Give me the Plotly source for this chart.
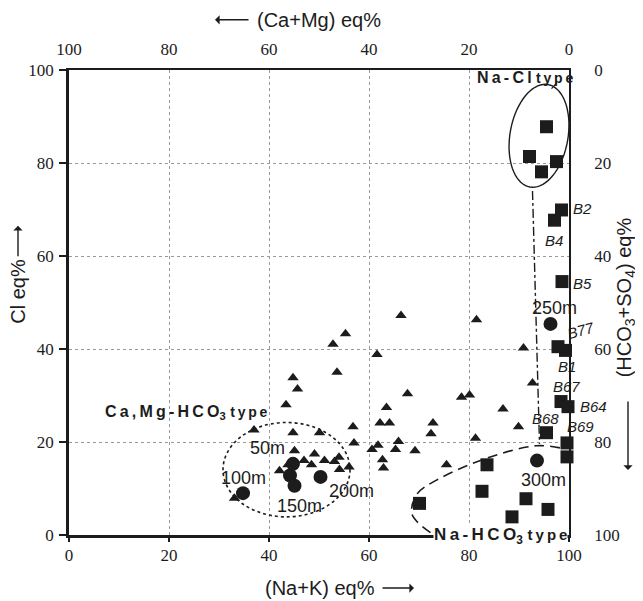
import numpy as np
import plotly.graph_objects as go

# ---------------- data ----------------
tri_x = [66.4, 81.5, 55.3, 52.8, 61.6, 90.9, 53.6, 44.8, 45.7, 92.7, 67.7, 78.5, 80.1,
         43.4, 63.5, 86.8, 89.9, 56.8, 62.2, 64.1, 72.8, 72.4, 37.0, 44.8, 50.1, 57.0,
         60.6, 61.8, 65.9, 65.3, 69.2, 81.3, 62.7, 62.9, 75.5,
         45.1, 49.1, 47.0, 51.1, 54.0, 53.1, 54.1, 56.0, 42.1, 43.8, 48.5, 33.1]
tri_y = [47.2, 46.3, 43.3, 41.0, 38.8, 40.2, 35.0, 33.8, 31.4, 32.7, 30.4, 29.6, 30.1,
         28.0, 27.4, 27.1, 23.3, 23.3, 24.1, 24.1, 24.1, 21.8, 22.6, 22.0, 22.0, 19.8,
         18.4, 19.3, 20.1, 18.4, 18.1, 20.8, 16.2, 14.4, 15.1,
         18.1, 17.4, 16.0, 16.0, 16.7, 15.8, 14.1, 14.6, 13.8, 15.1, 15.1, 7.9]

nacl_x = [95.5, 92.1, 97.5, 94.5]
nacl_y = [87.8, 81.4, 80.3, 78.1]

b_names = ["B2", "B4", "B5", "B77", "B1", "B67", "B64", "B68", "B69", "B69"]
b_x = [98.5, 97.1, 98.6, 97.8, 99.3, 98.4, 99.8, 95.5, 99.6, 99.6]
b_y = [69.9, 67.7, 54.5, 40.5, 39.7, 28.7, 27.6, 22.0, 19.8, 16.8]

nahco3_x = [83.6, 82.6, 70.1, 88.6, 91.4, 95.8]
nahco3_y = [15.1, 9.4, 6.8, 3.9, 7.8, 5.5]

depth_names = ["50m", "", "100m", "150m", "200m", "250m", "300m"]
circ_x = [44.8, 44.2, 34.8, 45.1, 50.3, 96.3, 93.6]
circ_y = [15.3, 12.8, 9.0, 10.6, 12.5, 45.4, 16.0]

ticks = [0, 20, 40, 60, 80, 100]

# ---------------- figure ----------------
INK = "#1c1c1c"
fig = go.Figure()

fig.add_trace(go.Scatter(x=tri_x, y=tri_y, mode="markers", cliponaxis=False,
                         marker=dict(symbol="triangle-up", size=10, color=INK, line=dict(width=0)),
                         hoverinfo="skip", showlegend=False))
fig.add_trace(go.Scatter(x=circ_x, y=circ_y, mode="markers", cliponaxis=False,
                         marker=dict(symbol="circle", size=14, color=INK, line=dict(width=0)),
                         hoverinfo="skip", showlegend=False))
for xs, ys in [(nacl_x, nacl_y), (b_x, b_y), (nahco3_x, nahco3_y)]:
    fig.add_trace(go.Scatter(x=xs, y=ys, mode="markers", cliponaxis=False,
                             marker=dict(symbol="square", size=13, color=INK, line=dict(width=0)),
                             hoverinfo="skip", showlegend=False))

# dashed boundary of the Na-HCO3 group
fig.add_trace(go.Scatter(x=[72.3, 68.6, 69.6, 73.5, 83.5, 93.5, 98.8],
                         y=[0.5, 4.5, 8.8, 11.8, 16.5, 19.2, 18.6],
                         mode="lines", line=dict(color=INK, width=1.6, dash="10px,6px", shape="spline"),
                         hoverinfo="skip", showlegend=False))

# invisible traces for the top and right axes
fig.add_trace(go.Scatter(x=[50], y=[50], xaxis="x2", yaxis="y2", mode="markers",
                         marker=dict(opacity=0), hoverinfo="skip", showlegend=False))

# shapes
shapes = []
t = np.linspace(0, 2 * np.pi, 73)
th = np.radians(10)
cxp, cyp = 94.0, 85.85
a, b = 29.0, 52.0
right = a * np.cos(t) * np.cos(th) + b * np.sin(t) * np.sin(th)
up = -a * np.cos(t) * np.sin(th) + b * np.sin(t) * np.cos(th)
ex = cxp + right / 5.0
ey = cyp + up / 4.65
path = "M " + " L ".join(f"{x:.2f},{y:.2f}" for x, y in zip(ex, ey)) + " Z"
shapes.append(dict(type="path", path=path, xref="x", yref="y", line=dict(color=INK, width=1.4)))
shapes.append(dict(type="line", xref="x", yref="y", x0=96.5, y0=96.0, x1=97.6, y1=97.3,
                   line=dict(color=INK, width=1.2)))
shapes.append(dict(type="circle", xref="x", yref="y", x0=30.8, x1=56.2, y0=3.9, y1=24.2,
                   line=dict(color=INK, width=1.6, dash="dot")))
shapes.append(dict(type="line", xref="x", yref="y", x0=92.7, y0=74.0, x1=94.1, y1=19.6,
                   line=dict(color=INK, width=1.4, dash="dashdot")))

ann = []
def A(text, x, y, size=15, family="Liberation Sans", **kw):
    # positions given in data units (0-100 on both axes) -> paper fractions
    d = dict(text=text, x=x / 100.0, y=y / 100.0, xref="paper", yref="paper", showarrow=False,
             xanchor="center", yanchor="middle",
             font=dict(family=family, size=size, color=INK))
    d.update(kw)
    ann.append(d)

TS = "\u2009"
def spaced(s):
    return TS.join(s)

A(f"<b>{spaced('Na-Cl')} <span style='font-size:14px'>{spaced('type')}</span></b>", 91.2, 98.3, size=16)
A(f"<b>{spaced('Ca,Mg-HCO')}<sub>3</sub> <span style='font-size:14px'>{spaced('type')}</span></b>",
  23.4, 26.3, size=16)
A(f"<b>{spaced('Na-HCO')}<sub>3</sub> <span style='font-size:15px'>{spaced('type')}</span></b>",
  86.3, -0.3, size=17, bgcolor="white", borderpad=0)

depth_pos = {"50m": (39.6, 18.7), "100m": (34.8, 12.3), "150m": (46.1, 6.2),
             "200m": (56.5, 9.5), "250m": (97.1, 48.8), "300m": (94.9, 11.8)}
for n in depth_names:
    if n:
        A(n, *depth_pos[n], size=18)

b_pos = {"B2": (102.6, 70.3, 0), "B4": (96.9, 63.4, 0), "B5": (102.6, 54.1, 0),
         "B77": (102.2, 44.0, -15), "B1": (99.6, 36.2, 0), "B67": (99.4, 31.9, 0),
         "B64": (104.9, 27.6, 0), "B68": (95.3, 25.1, 0), "B69": (102.3, 23.3, 0)}
for n in dict.fromkeys(b_names):
    bx, by, ang = b_pos[n]
    A(f"<i>{n}</i>", bx, by, size=15, textangle=ang)

# axis titles
def T(text, x, y, ang=0, family="Liberation Sans", size=20):
    ann.append(dict(text=text, x=x, y=y, xref="paper", yref="paper", showarrow=False,
                    xanchor="center", yanchor="middle", textangle=ang,
                    font=dict(family=family, size=size, color=INK)))

def ARROW(x, y, ax, ay):
    ann.append(dict(text="", x=x, y=y, xref="paper", yref="paper", showarrow=True,
                    ax=ax, ay=ay, arrowhead=1, arrowsize=1.1, arrowwidth=1.4, arrowcolor=INK,
                    standoff=0, startstandoff=0))

T("(Ca+Mg) eq%", 0.499, 1.108)
ARROW(0.292, 1.108, 35, 0)
T("(Na+K) eq%", 0.502, -0.114)
ARROW(0.69, -0.114, -33, 0)
T("Cl eq%", -0.102, 0.523, ang=-90)
ARROW(-0.102, 0.665, 0, 32)
T("(HCO<sub>3</sub>+SO<sub>4</sub>) eq%", 1.113, 0.51, ang=-90)
ARROW(1.118, 0.14, 0, -70)

tickfont = dict(family="Liberation Serif", size=17, color=INK)
grid = dict(showgrid=True, gridcolor="#9a9a9a", gridwidth=1, griddash="dot", zeroline=False)

# the page body adds an 8px offset; margins compensate for it
fig.update_layout(
    width=643, height=601,
    margin=dict(l=61, r=82, t=62, b=74),
    paper_bgcolor="white", plot_bgcolor="white",
    shapes=shapes, annotations=ann,
    xaxis=dict(range=[0, 100], tickvals=ticks, ticks="outside", ticklen=4, tickwidth=1.5,
               tickcolor=INK, showline=True, linewidth=2.5, linecolor=INK, automargin=False,
               tickfont=tickfont, ticklabelstandoff=-1, **grid),
    yaxis=dict(range=[0, 100], tickvals=ticks, ticks="outside", ticklen=7, tickwidth=1.5,
               tickcolor=INK, showline=True, linewidth=2.5, linecolor=INK, automargin=False,
               tickfont=tickfont, ticklabelstandoff=2, **grid),
    xaxis2=dict(range=[100, 0], overlaying="x", side="top", anchor="y", tickvals=ticks,
                showline=True, linewidth=1.5, linecolor=INK, ticks="", showgrid=False,
                zeroline=False, tickfont=tickfont, ticklabelstandoff=6, automargin=False),
    yaxis2=dict(range=[100, 0], overlaying="y", side="right", anchor="x", tickvals=ticks,
                showline=True, linewidth=1.5, linecolor=INK, ticks="", showgrid=False,
                zeroline=False, tickfont=tickfont, ticklabelstandoff=20, automargin=False),
)

fig.write_html("out.html")
